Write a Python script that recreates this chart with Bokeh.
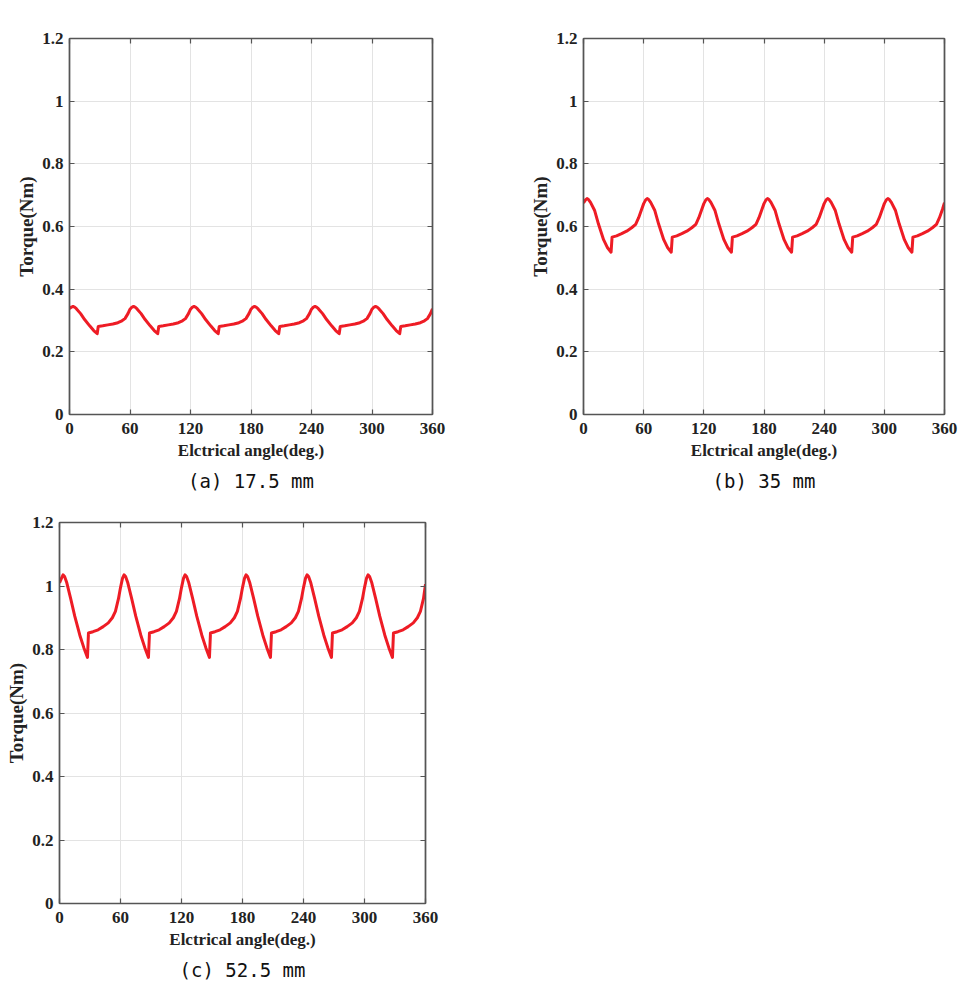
from bokeh.plotting import figure
from bokeh.models import FixedTicker, NumeralTickFormatter, LinearAxis, Title
from bokeh.layouts import row, column
from bokeh.embed import file_html
from bokeh.resources import INLINE

# Electrical angle (deg.) – shared sample positions
angle = [
    0, 2, 3.5, 5, 7, 11, 15, 20, 24, 27.5, 28.5, 33, 38, 43, 48, 52, 55, 58,
    60, 62, 63.5, 65, 67, 71, 75, 80, 84, 87.5, 88.5, 93, 98, 103, 108, 112, 115, 118,
    120, 122, 123.5, 125, 127, 131, 135, 140, 144, 147.5, 148.5, 153, 158, 163, 168, 172, 175, 178,
    180, 182, 183.5, 185, 187, 191, 195, 200, 204, 207.5, 208.5, 213, 218, 223, 228, 232, 235, 238,
    240, 242, 243.5, 245, 247, 251, 255, 260, 264, 267.5, 268.5, 273, 278, 283, 288, 292, 295, 298,
    300, 302, 303.5, 305, 307, 311, 315, 320, 324, 327.5, 328.5, 333, 338, 343, 348, 352, 355, 358,
    360,
]

# (a) 17.5 mm
torque_a = [
    0.338, 0.343, 0.345, 0.343, 0.337, 0.322, 0.303, 0.283, 0.268, 0.258, 0.281, 0.283, 0.286, 0.289, 0.293, 0.299, 0.306, 0.322,
    0.336, 0.343, 0.345, 0.343, 0.337, 0.322, 0.303, 0.283, 0.268, 0.258, 0.281, 0.283, 0.286, 0.289, 0.293, 0.299, 0.306, 0.322,
    0.336, 0.343, 0.345, 0.343, 0.337, 0.322, 0.303, 0.283, 0.268, 0.258, 0.281, 0.283, 0.286, 0.289, 0.293, 0.299, 0.306, 0.322,
    0.336, 0.343, 0.345, 0.343, 0.337, 0.322, 0.303, 0.283, 0.268, 0.258, 0.281, 0.283, 0.286, 0.289, 0.293, 0.299, 0.306, 0.322,
    0.336, 0.343, 0.345, 0.343, 0.337, 0.322, 0.303, 0.283, 0.268, 0.258, 0.281, 0.283, 0.286, 0.289, 0.293, 0.299, 0.306, 0.322,
    0.336, 0.343, 0.345, 0.343, 0.337, 0.322, 0.303, 0.283, 0.268, 0.258, 0.281, 0.283, 0.286, 0.289, 0.293, 0.299, 0.306, 0.322,
    0.337,
]

# (b) 35 mm
torque_b = [
    0.675, 0.685, 0.689, 0.686, 0.677, 0.652, 0.607, 0.558, 0.532, 0.518, 0.566, 0.570, 0.577, 0.585, 0.596, 0.607, 0.628, 0.655,
    0.673, 0.685, 0.689, 0.686, 0.677, 0.652, 0.607, 0.558, 0.532, 0.518, 0.566, 0.570, 0.577, 0.585, 0.596, 0.607, 0.628, 0.655,
    0.673, 0.685, 0.689, 0.686, 0.677, 0.652, 0.607, 0.558, 0.532, 0.518, 0.566, 0.570, 0.577, 0.585, 0.596, 0.607, 0.628, 0.655,
    0.673, 0.685, 0.689, 0.686, 0.677, 0.652, 0.607, 0.558, 0.532, 0.518, 0.566, 0.570, 0.577, 0.585, 0.596, 0.607, 0.628, 0.655,
    0.673, 0.685, 0.689, 0.686, 0.677, 0.652, 0.607, 0.558, 0.532, 0.518, 0.566, 0.570, 0.577, 0.585, 0.596, 0.607, 0.628, 0.655,
    0.673, 0.685, 0.689, 0.686, 0.677, 0.652, 0.607, 0.558, 0.532, 0.518, 0.566, 0.570, 0.577, 0.585, 0.596, 0.607, 0.628, 0.655,
    0.676,
]

# (c) 52.5 mm
torque_c = [
    1.010, 1.025, 1.035, 1.030, 1.012, 0.960, 0.905, 0.845, 0.805, 0.775, 0.852, 0.856, 0.862, 0.872, 0.884, 0.900, 0.920, 0.960,
    0.995, 1.025, 1.035, 1.030, 1.012, 0.960, 0.905, 0.845, 0.805, 0.775, 0.852, 0.856, 0.862, 0.872, 0.884, 0.900, 0.920, 0.960,
    0.995, 1.025, 1.035, 1.030, 1.012, 0.960, 0.905, 0.845, 0.805, 0.775, 0.852, 0.856, 0.862, 0.872, 0.884, 0.900, 0.920, 0.960,
    0.995, 1.025, 1.035, 1.030, 1.012, 0.960, 0.905, 0.845, 0.805, 0.775, 0.852, 0.856, 0.862, 0.872, 0.884, 0.900, 0.920, 0.960,
    0.995, 1.025, 1.035, 1.030, 1.012, 0.960, 0.905, 0.845, 0.805, 0.775, 0.852, 0.856, 0.862, 0.872, 0.884, 0.900, 0.920, 0.960,
    0.995, 1.025, 1.035, 1.030, 1.012, 0.960, 0.905, 0.845, 0.805, 0.775, 0.852, 0.856, 0.862, 0.872, 0.884, 0.900, 0.920, 0.960,
    1.006,
]

x_ticks = [0, 60, 120, 180, 240, 300, 360]
y_ticks = [0, 0.2, 0.4, 0.6, 0.8, 1.0, 1.2]
x_label = "Elctrical angle(deg.)"
y_label = "Torque(Nm)"
captions = ["(a) 17.5 mm", "(b) 35 mm", "(c) 52.5 mm"]

SERIF = "Liberation Serif"
AXIS_COLOR = "#555555"


def style_axis(ax, ticks, show_labels=True):
    ax.ticker = FixedTicker(ticks=ticks)
    ax.axis_line_color = AXIS_COLOR
    ax.axis_line_width = 1.6
    ax.major_tick_in = 5
    ax.major_tick_out = 0
    ax.major_tick_line_color = AXIS_COLOR
    ax.major_tick_line_width = 1.2
    ax.minor_tick_line_color = None
    ax.major_label_text_font = SERIF
    ax.major_label_text_font_style = "bold"
    ax.major_label_text_color = "#222222"
    ax.major_label_text_font_size = "17px"
    if not show_labels:
        ax.major_label_text_color = None
        ax.major_label_text_font_size = "1px"
        ax.major_label_standoff = 0


def make_panel(torque, caption, width, height, left, right, top, bottom):
    p = figure(width=width, height=height,
               min_border_left=left, min_border_right=right,
               min_border_top=top, min_border_bottom=bottom,
               x_range=(0, 360), y_range=(0, 1.2),
               output_backend="svg", toolbar_location=None)
    p.background_fill_color = "white"
    p.border_fill_color = "white"
    p.outline_line_color = AXIS_COLOR
    p.outline_line_width = 1.2

    style_axis(p.xaxis[0], x_ticks)
    style_axis(p.yaxis[0], y_ticks)
    p.xaxis[0].formatter = NumeralTickFormatter(format="0")
    p.yaxis[0].formatter = NumeralTickFormatter(format="0.[0]")
    p.xaxis[0].major_label_standoff = 8
    p.yaxis[0].major_label_standoff = 6

    p.xaxis[0].axis_label = x_label
    p.yaxis[0].axis_label = y_label
    for ax in (p.xaxis[0], p.yaxis[0]):
        ax.axis_label_text_font = SERIF
        ax.axis_label_text_font_style = "bold"
        ax.axis_label_text_color = "#222222"
    p.xaxis[0].axis_label_text_font_size = "17px"
    p.yaxis[0].axis_label_text_font_size = "19px"
    p.xaxis[0].axis_label_standoff = 4
    p.yaxis[0].axis_label_standoff = 2

    ax_r = LinearAxis()
    style_axis(ax_r, y_ticks, show_labels=False)
    p.add_layout(ax_r, "right")
    ax_t = LinearAxis()
    style_axis(ax_t, x_ticks, show_labels=False)
    p.add_layout(ax_t, "above")

    p.xgrid.ticker = FixedTicker(ticks=x_ticks)
    p.ygrid.ticker = FixedTicker(ticks=y_ticks)
    p.xgrid.grid_line_color = "#e3e3e3"
    p.ygrid.grid_line_color = "#e3e3e3"
    p.xgrid.grid_line_width = 1
    p.ygrid.grid_line_width = 1

    p.line(angle, torque, line_color="#ee1c25", line_width=3, line_join="round")

    cap = Title(text=caption, align="center", text_font="DejaVu Sans Mono",
                text_font_size="19px", text_font_style="normal",
                text_color="#111111")
    p.add_layout(cap, "below")
    return p


pa = make_panel(torque_a, captions[0], 500, 505, 69, 68, 38, 91)
pb = make_panel(torque_b, captions[1], 474, 505, 83, 30, 38, 91)
pc = make_panel(torque_c, captions[2], 500, 490, 59, 75, 17, 92)

layout = column(row(pa, pb), pc)

with open("out.html", "w") as f:
    f.write(file_html(layout, INLINE))
